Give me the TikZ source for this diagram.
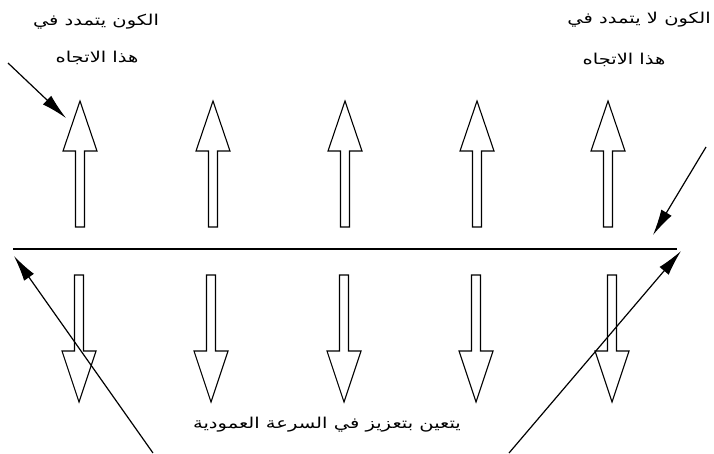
\documentclass[tikz,border=0pt]{standalone}
\usepackage{fontspec}
\newfontfamily\arabicfont[Script=Arabic,FakeStretch=1.3]{DejaVu Sans}
\TeXXeTstate=1
\usetikzlibrary{arrows.meta}
\tikzset{
  hollow/.style={draw=black, line width=1.1pt, fill=white, line join=miter},
  uparrow/.pic={\draw[hollow] (-4.5,0) -- (-4.5,-76) -- (-17,-76) -- (0,-126) -- (17,-76) -- (4.5,-76) -- (4.5,0) -- cycle;},
  downarrow/.pic={\draw[hollow] (-4.5,0) -- (-4.5,76) -- (-17,76) -- (0,127) -- (17,76) -- (4.5,76) -- (4.5,0) -- cycle;},
  pointer/.style={line width=1.2pt, -{Latex[length=26pt,width=12pt]}},
  label/.style={font=\arabicfont\fontsize{15}{18}\selectfont, inner sep=0pt}
}
\begin{document}
\begin{tikzpicture}[x=1pt,y=-1pt]
\useasboundingbox (0,0) rectangle (714,453);
\fill[white] (0,0) rectangle (714,453);
% up arrows
\foreach \cx in {80,213,345,477,608} \pic at (\cx,227) {uparrow};
% down arrows
\foreach \cx in {79,211,344,476,612} \pic at (\cx,275) {downarrow};
% horizontal line
\coordinate (la) at (13,249);
\coordinate (lb) at (677,249);
\draw[line width=2.4pt] (la) -- (lb);
% texts
\node[label] (tl1) at (96,22) {\beginR الكون يتمدد في\endR};
\node[label] (tl2) at (97,58) {\beginR هذا الاتجاه\endR};
\node[label, anchor=east] (tr1) at (711,20) {\beginR الكون لا يتمدد في\endR};
\node[label] (tr2) at (624,60) {\beginR هذا الاتجاه\endR};
\node[label] (bt) at (327,425) {\beginR يتعين بتعزيز في السرعة العمودية\endR};
% diagonal pointers
\coordinate (p1t) at (8,63);   \coordinate (p1h) at (66,118);
\coordinate (p2t) at (706,147); \coordinate (p2h) at (653,235);
\coordinate (p3t) at (153,453); \coordinate (p3h) at (14,256);
\coordinate (p4t) at (509,453); \coordinate (p4h) at (681,251);
\draw[pointer] (p1t) -- (p1h);
\draw[pointer] (p2t) -- (p2h);
\draw[pointer] (p3t) -- (p3h);
\draw[pointer] (p4t) -- (p4h);
\end{tikzpicture}
\end{document}
